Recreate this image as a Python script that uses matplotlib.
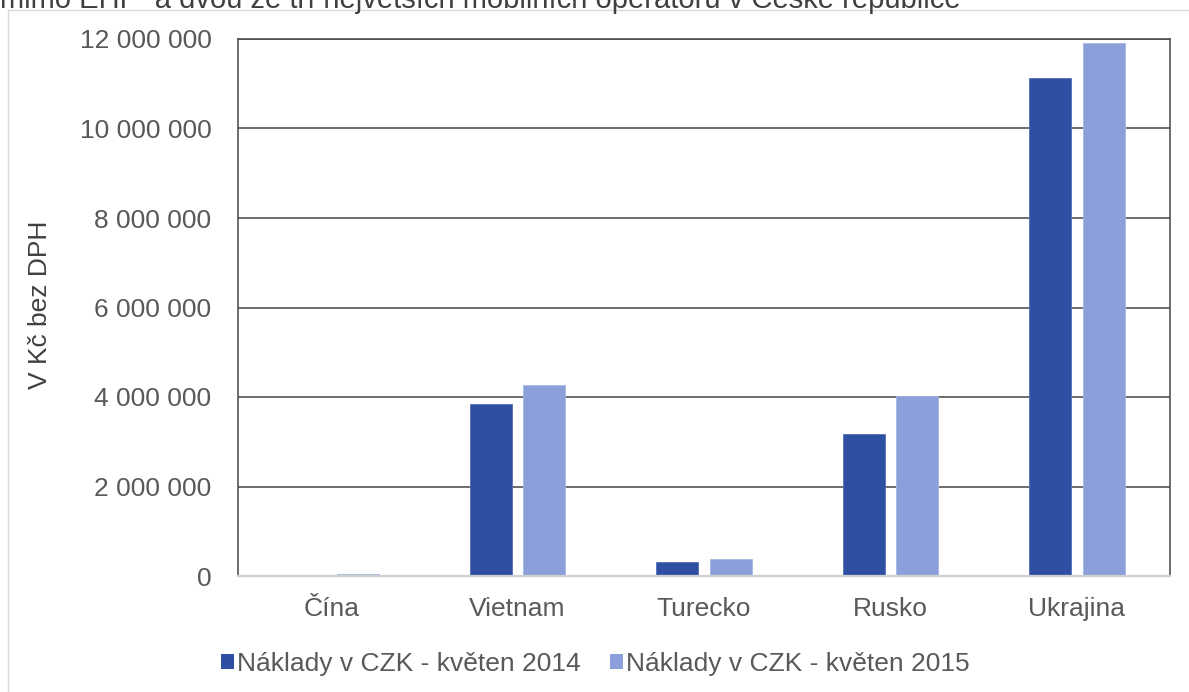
import matplotlib
matplotlib.use("Agg")
import matplotlib.pyplot as plt
import numpy as np
from matplotlib.patches import Rectangle, Patch
from matplotlib.ticker import FuncFormatter

plt.rcParams['font.family'] = ['Liberation Sans', 'DejaVu Sans']

categories = ["Čína", "Vietnam", "Turecko", "Rusko", "Ukrajina"]
costs_2014 = [8000, 3840000, 310000, 3170000, 11120000]
costs_2015 = [40000, 4270000, 380000, 4030000, 11920000]
series_names = ["Náklady v CZK - květen 2014", "Náklady v CZK - květen 2015"]
title_text = "mimo EHP  a dvou ze tří největších mobilních operátorů v České republice"
ylabel_text = "V Kč bez DPH"
yticks = [0, 2000000, 4000000, 6000000, 8000000, 10000000, 12000000]

c2014 = "#2F4FA3"
c2015 = "#8BA0DB"
txt = "#595959"
FS = 19

W, H = 1189, 692
fig = plt.figure(figsize=(W / 100, H / 100), dpi=100)

# outer chart border (cropped at right/bottom)
fig.patches.append(Rectangle((8 / W, -0.1), 1.2, 1 - 10 / H + 0.1, transform=fig.transFigure,
                             fill=False, edgecolor="#d9d9d9", lw=1.0, zorder=0))

ax = fig.add_axes([238 / W, 1 - 576 / H, (1170 - 238) / W, (576 - 39) / H])

x = np.arange(len(categories))
bw = 0.225
off = 0.1435
ax.bar(x - off, costs_2014, bw, color=c2014, edgecolor="#5470b8", linewidth=0.6, zorder=3,
       label=series_names[0])
ax.bar(x + off, costs_2015, bw, color=c2015, edgecolor="#a7b7e4", linewidth=0.6, zorder=3,
       label=series_names[1])

ax.set_xlim(-0.5, len(categories) - 0.5)
ax.set_ylim(0, 12000000)
ax.set_yticks(yticks)
ax.yaxis.set_major_formatter(FuncFormatter(lambda v, p: f"{int(v):,}".replace(",", " ")))
ax.set_xticks(x)
ax.set_xticklabels(categories)
ax.tick_params(axis='both', length=0, labelsize=FS, colors=txt)
ax.tick_params(axis='y', pad=19)
ax.tick_params(axis='x', pad=15)
ax.grid(axis='y', color="#454545", lw=1.1, zorder=1)
ax.set_axisbelow(True)
for s in ['left', 'top', 'right']:
    ax.spines[s].set_color("#454545")
    ax.spines[s].set_linewidth(1.1)
ax.spines['bottom'].set_color("#d0d0d0")
ax.spines['bottom'].set_linewidth(1.6)
ax.spines['bottom'].set_zorder(4)

fig.text(40 / W, 1 - 305 / H, ylabel_text, rotation=90, ha='center', va='center',
         fontsize=FS, color="#404040")

fig.text(0.0, 1 - 8 / H, title_text, ha='left', va='baseline', fontsize=21, color="#404040")

handles = [Patch(facecolor=c2014, edgecolor='none'), Patch(facecolor=c2015, edgecolor='none')]
fig.legend(handles, series_names, loc='center', bbox_to_anchor=(595 / W, 1 - 664 / H),
           ncol=2, frameon=False, fontsize=FS, labelcolor=txt,
           handlelength=0.5, handleheight=0.5, handletextpad=0.12, columnspacing=1.1,
           borderpad=0, borderaxespad=0)

fig.savefig("out.png", dpi=100)
